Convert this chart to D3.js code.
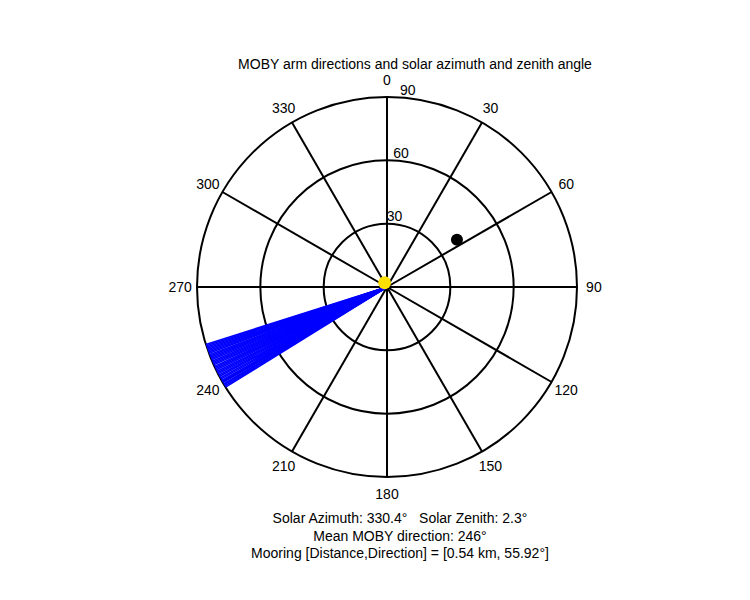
<!DOCTYPE html>
<html lang="en">
<head>
<meta charset="UTF-8">
<title>MOBY arm directions</title>
<script src="https://d3js.org/d3.v7.min.js"></script>
<style>
  body { margin: 0; background: #fff; }
  text { font-family: "Liberation Sans", Arial, sans-serif; font-size: 14px; fill: #000; }
</style>
</head>
<body>
<svg width="750" height="600"></svg>
<script>
// data
const zenithRings = [30, 60, 90];
const spokeAngles = [0, 30, 60, 90, 120, 150, 180, 210, 240, 270, 300, 330];
const armDirections = [238.2, 238.6, 239.0, 239.3, 239.8, 240.2, 240.5, 241.0, 241.4, 241.9,
  242.3, 242.8, 243.2, 243.6, 244.1, 244.5, 244.9, 245.3, 245.8, 246.2, 246.6, 247.0,
  247.5, 247.9, 248.3, 248.7, 249.1, 249.6, 250.0, 250.4, 250.8, 251.2, 251.6, 252.0, 252.4];
const armLength = 90;
const mooring = { direction: 55.92, zenith: 40 };
const sun = { azimuth: 330.4, zenith: 2.3 };
const titleText = "MOBY arm directions and solar azimuth and zenith angle";
const footerLines = [
  "Solar Azimuth: 330.4°   Solar Zenith: 2.3°",
  "Mean MOBY direction: 246°",
  "Mooring [Distance,Direction] = [0.54 km, 55.92°]"
];

const cx = 387, cy = 287, R = 190;
const svg = d3.select("svg");
const g = svg.append("g").attr("transform", `translate(${cx},${cy})`);
const r = d3.scaleLinear().domain([0, 90]).range([0, R]);
const px = (az, z) => r(z) * Math.sin(az * Math.PI / 180);
const py = (az, z) => -r(z) * Math.cos(az * Math.PI / 180);

g.append("circle").attr("r", R).attr("fill", "#fff");
g.selectAll(".ring").data(zenithRings).enter().append("circle")
  .attr("r", d => r(d)).attr("fill", "none").attr("stroke", "#000").attr("stroke-width", 2);

g.selectAll(".spoke").data(spokeAngles).enter().append("line")
  .attr("x1", 0).attr("y1", 0)
  .attr("x2", d => px(d, 90)).attr("y2", d => py(d, 90))
  .attr("stroke", "#000").attr("stroke-width", 2);

g.selectAll(".arm").data(armDirections).enter().append("line")
  .attr("x1", 0).attr("y1", 0)
  .attr("x2", d => px(d, armLength)).attr("y2", d => py(d, armLength))
  .attr("stroke", "#0000ff").attr("stroke-width", 1.6);

g.selectAll(".alab").data(spokeAngles).enter().append("text")
  .attr("x", d => px(d, 98)).attr("y", d => py(d, 98) + 5)
  .attr("text-anchor", "middle").text(d => d);

g.selectAll(".rlab").data(zenithRings).enter().append("text")
  .attr("x", d => px(6, d + 4)).attr("y", d => py(6, d + 4) + 5)
  .attr("text-anchor", "middle").text(d => d);

g.append("circle").attr("cx", px(mooring.direction, mooring.zenith))
  .attr("cy", py(mooring.direction, mooring.zenith)).attr("r", 6).attr("fill", "#000");

g.append("circle").attr("cx", px(sun.azimuth, sun.zenith))
  .attr("cy", py(sun.azimuth, sun.zenith)).attr("r", 6.5).attr("fill", "#ffe000");

svg.append("text").attr("x", 415).attr("y", 69).attr("text-anchor", "middle").text(titleText);
svg.selectAll(".foot").data(footerLines).enter().append("text")
  .attr("x", 400).attr("y", (d, i) => 523 + i * 17.5).attr("text-anchor", "middle")
  .style("white-space", "pre").text(d => d);
</script>
</body>
</html>
